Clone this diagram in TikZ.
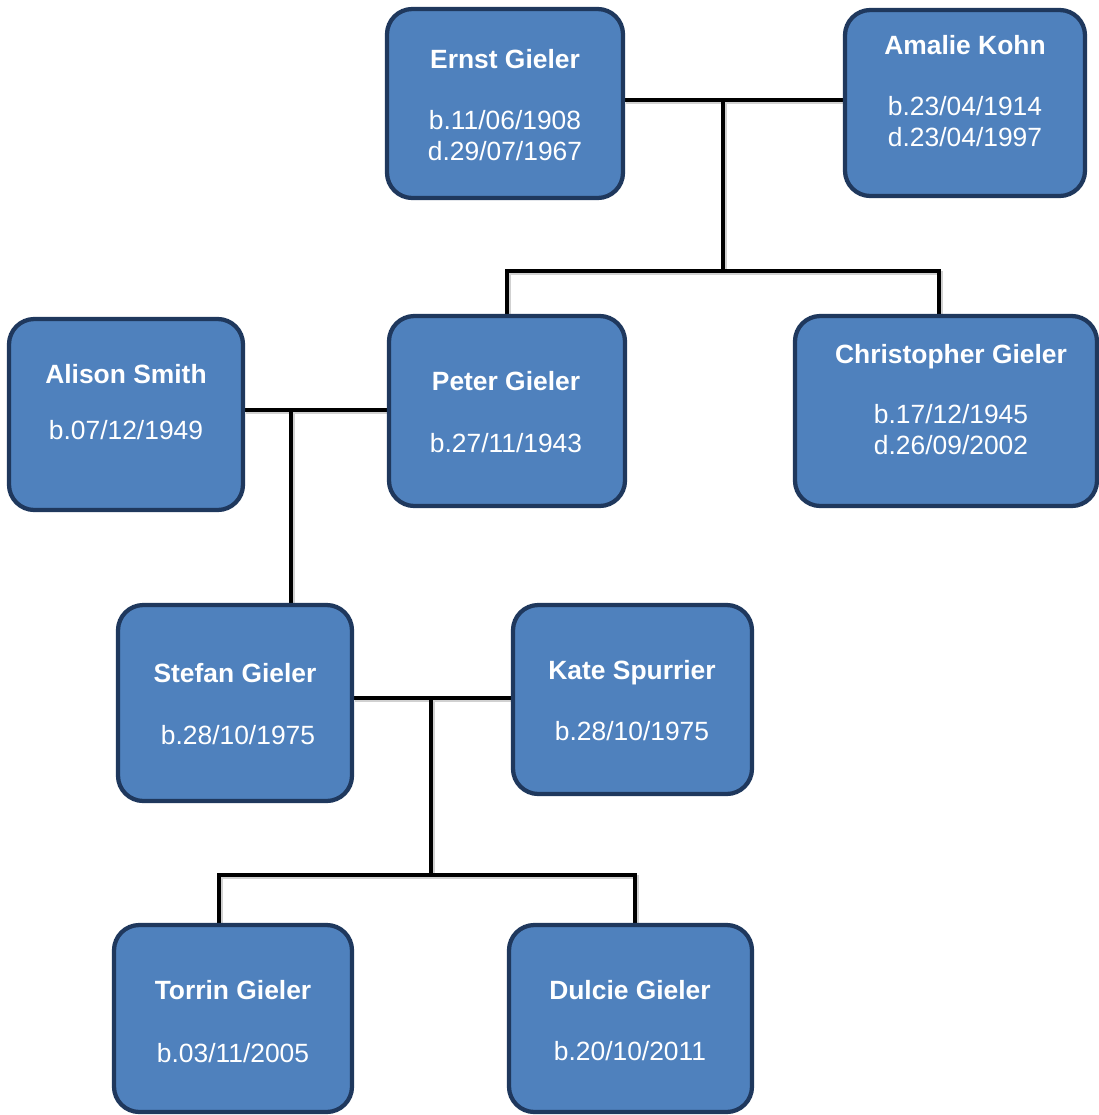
\documentclass[tikz,border=0pt]{standalone}
\usepackage{fontspec}
\setmainfont{Liberation Sans}
\usetikzlibrary{fit,backgrounds}
\definecolor{boxfill}{RGB}{79,129,189}
\definecolor{boxline}{RGB}{31,56,93}
\begin{document}
\begin{tikzpicture}[x=0.75pt,y=-0.75pt,
  box/.style={draw=boxline, fill=boxfill, line width=3.2pt, rounded corners=19pt, inner sep=0pt},
  title/.style={anchor=base, text=white, font=\fontsize{19.8}{23}\selectfont\bfseries},
  date/.style={anchor=base, text=white, font=\fontsize{19.8}{23}\selectfont},
  conn/.style={draw=black, line width=3.3pt, line join=miter,
    preaction={draw=black!18, line width=3.3pt, transform canvas={shift={(1pt,-1.6pt)}}}}]
\useasboundingbox (0,0) rectangle (1099,1115);

% boxes
\node[box, fit={(387,9) (623,198)}] (ernst) {};
\node[box, fit={(845,10) (1085,196)}] (amalie) {};
\node[box, fit={(9,319) (243,510)}] (alison) {};
\node[box, fit={(389,316) (625,506)}] (peter) {};
\node[box, fit={(795,316) (1097,506)}] (chris) {};
\node[box, fit={(118,605) (352,801)}] (stefan) {};
\node[box, fit={(513,605) (752,794)}] (kate) {};
\node[box, fit={(114,925) (352,1112)}] (torrin) {};
\node[box, fit={(509,925) (752,1112)}] (dulcie) {};

% texts
\node[title] (ernstN) at (505,68) {Ernst Gieler};
\node[date] (ernstB) at (505,129) {b.11/06/1908};
\node[date] (ernstD) at (505,160) {d.29/07/1967};

\node[title] (amalieN) at (965,54) {Amalie Kohn};
\node[date] (amalieB) at (965,115) {b.23/04/1914};
\node[date] (amalieD) at (965,146) {d.23/04/1997};

\node[title] (alisonN) at (126,383) {Alison Smith};
\node[date] (alisonB) at (126,439) {b.07/12/1949};

\node[title] (peterN) at (506,390) {Peter Gieler};
\node[date] (peterB) at (506,452) {b.27/11/1943};

\node[title] (chrisN) at (951,363) {Christopher Gieler};
\node[date] (chrisB) at (951,423) {b.17/12/1945};
\node[date] (chrisD) at (951,454) {d.26/09/2002};

\node[title] (stefanN) at (235,682) {Stefan Gieler};
\node[date] (stefanB) at (238,744) {b.28/10/1975};

\node[title] (kateN) at (632,679) {Kate Spurrier};
\node[date] (kateB) at (632,740) {b.28/10/1975};

\node[title] (torrinN) at (233,999) {Torrin Gieler};
\node[date] (torrinB) at (233,1062) {b.03/11/2005};

\node[title] (dulcieN) at (630,999) {Dulcie Gieler};
\node[date] (dulcieB) at (630,1060) {b.20/10/2011};

% connector points
\coordinate (m1) at (723,100);
\coordinate (j1) at (723,271);
\coordinate (cn) at (939,316);
\coordinate (m2) at (291,410);
\coordinate (m3) at (431,698);
\coordinate (j3) at (431,875);
\coordinate (tn) at (219,925);
\coordinate (dn) at (635,925);

\begin{scope}[on background layer]
\draw[conn] (ernst.east |- m1) -- (amalie.west |- m1);
\draw[conn] (m1) -- (j1);
\draw[conn] (peter.north) |- (j1) -| (cn);
\draw[conn] (alison.east |- m2) -- (peter.west |- m2);
\draw[conn] (m2) -- (m2 |- stefan.north);
\draw[conn] (stefan.east |- m3) -- (kate.west |- m3);
\draw[conn] (m3) -- (j3);
\draw[conn] (tn) |- (j3) -| (dn);
\end{scope}
\end{tikzpicture}
\end{document}
